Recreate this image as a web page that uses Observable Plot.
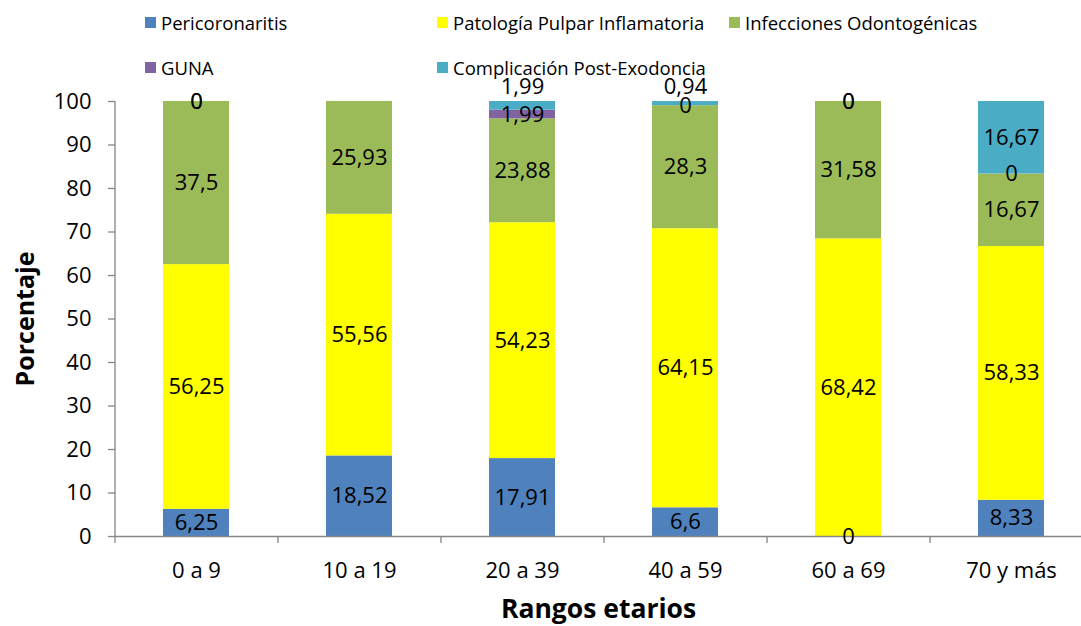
<!DOCTYPE html>
<html>
<head>
<meta charset="utf-8">
<script src="https://cdn.jsdelivr.net/npm/d3@7"></script>
<script src="https://cdn.jsdelivr.net/npm/@observablehq/plot@0.6"></script>
<style>
  body { margin: 0; background: #fff; font-family: "Open Sans", sans-serif; }
  #wrap { position: relative; width: 1081px; height: 626px; }
  #legend { position: absolute; left: 0; top: 0; width: 1081px; height: 90px; z-index: 2; pointer-events: none; }
  .item { position: absolute; display: flex; align-items: center; font-size: 18.5px; color: #000; white-space: nowrap; }
  .sw { width: 11px; height: 11px; margin-right: 5px; }
</style>
</head>
<body>
<div id="wrap">
  <div id="legend"></div>
  <div id="chart"></div>
</div>
<script>
const groups = ["0 a 9", "10 a 19", "20 a 39", "40 a 59", "60 a 69", "70 y más"];
const seriesNames = ["Pericoronaritis", "Patología Pulpar Inflamatoria", "Infecciones Odontogénicas", "GUNA", "Complicación Post-Exodoncia"];
const seriesColors = ["#4F81BD", "#FFFF00", "#9BBB59", "#8064A2", "#4BACC6"];
const pericoronaritis = [6.25, 18.52, 17.91, 6.6, 0, 8.33];
const patologia = [56.25, 55.56, 54.23, 64.15, 68.42, 58.33];
const infecciones = [37.5, 25.93, 23.88, 28.3, 31.58, 16.67];
const guna = [0, null, 1.99, 0, 0, 0];
const complicacion = [0, null, 1.99, 0.94, 0, 16.67];
const yTicks = [0, 10, 20, 30, 40, 50, 60, 70, 80, 90, 100];
const yTitle = "Porcentaje";
const xTitle = "Rangos etarios";

const seriesValues = [pericoronaritis, patologia, infecciones, guna, complicacion];
const rows = [];
seriesNames.forEach((s, si) => {
  groups.forEach((g, gi) => {
    const v = seriesValues[si][gi];
    if (v != null) rows.push({group: g, series: s, value: v});
  });
});
const fmt = v => String(v).replace(".", ",");
const lastSeries = seriesNames[seriesNames.length - 1];
const moved = d => d.series === lastSeries && d.value > 0 && d.value < 5;

// legend
const legend = document.getElementById("legend");
const colX = [145, 437, 729];
const rowY = [22, 67];
seriesNames.forEach((s, i) => {
  const it = document.createElement("div");
  it.className = "item";
  it.style.left = colX[i % 3] + "px";
  it.style.top = (rowY[Math.floor(i / 3)] - 12) + "px";
  it.style.height = "24px";
  const sw = document.createElement("span");
  sw.className = "sw";
  sw.style.background = seriesColors[i];
  const tx = document.createElement("span");
  tx.textContent = s;
  it.appendChild(sw); it.appendChild(tx);
  legend.appendChild(it);
});

const step = (1093 - 115) / groups.length;

const chart = Plot.plot({
  width: 1081,
  height: 626,
  marginLeft: 115,
  marginRight: 0,
  marginTop: 101,
  marginBottom: 90,
  x: {domain: groups, range: [115, 1093], paddingInner: 0.595, paddingOuter: 0.2975},
  y: {domain: [0, 100]},
  color: {domain: seriesNames, range: seriesColors},
  style: {fontFamily: "Open Sans", fontSize: "22px", color: "#000", background: "transparent", overflow: "visible"},
  marks: [
    Plot.barY(rows, {x: "group", y: "value", fill: "series"}),
    Plot.ruleY([0], {stroke: "#868686", strokeWidth: 1.3}),
    Plot.ruleX([groups[0]], {x: d => d, dx: -step / 2, y1: 0, y2: 100, stroke: "#868686", strokeWidth: 1.3}),
    Plot.ruleX(groups, {x: d => d, dx: -step / 2, y1: 0, y2: 0, insetTop: 7, stroke: "#868686", strokeWidth: 1.3}),
    Plot.axisY(yTicks, {tickSize: 7, tickPadding: 17, stroke: "#868686", strokeWidth: 1.3, label: null, fontSize: 22}),
    Plot.axisX({tickSize: 0, tickPadding: 26, label: null, fontSize: 22}),
    Plot.text(rows, Plot.stackY({x: "group", y: "value", z: "series", text: d => moved(d) ? null : fmt(d.value), fontSize: 22, fill: "#000"})),
    Plot.text(rows, Plot.stackY2({x: "group", y: "value", z: "series", text: d => moved(d) ? fmt(d.value) : null, dy: -15, fontSize: 22, fill: "#000"})),
    Plot.text([yTitle], {frameAnchor: "left", dx: -90, rotate: -90, textAnchor: "middle", fontWeight: "bold", fontSize: 25, fill: "#000"}),
    Plot.text([xTitle], {frameAnchor: "bottom", dy: 81, fontWeight: "bold", fontSize: 26.5, fill: "#000"})
  ]
});
document.getElementById("chart").appendChild(chart);
</script>
</body>
</html>
